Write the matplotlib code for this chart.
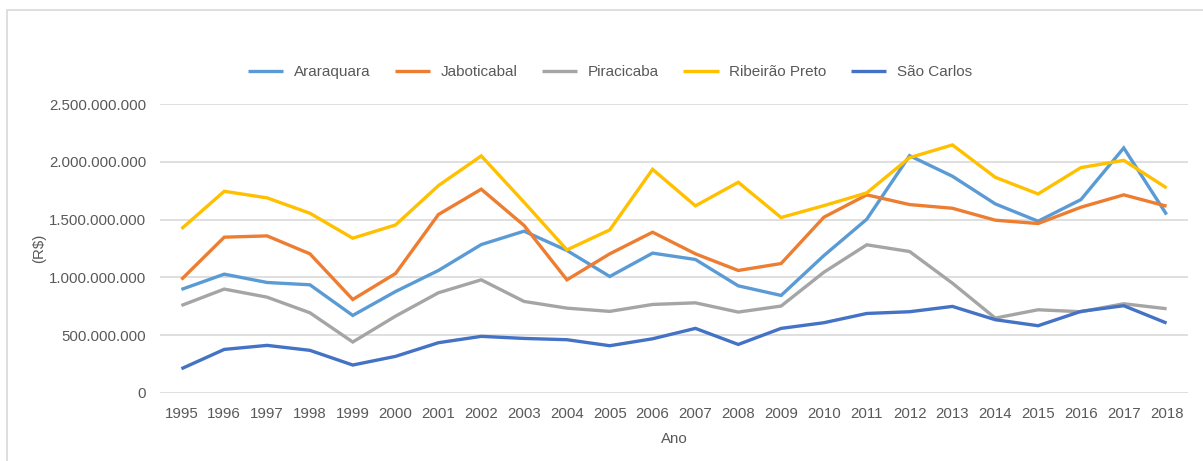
import matplotlib
matplotlib.use("Agg")
import matplotlib.pyplot as plt
from matplotlib.patches import Rectangle
from matplotlib.ticker import FuncFormatter, MultipleLocator

# Annual values (R$) per municipality
anos = list(range(1995, 2019))

araraquara = [896e6, 1028e6, 956e6, 936e6, 671e6, 878e6, 1060e6, 1284e6, 1400e6, 1233e6,
              1008e6, 1210e6, 1155e6, 927e6, 844e6, 1189e6, 1503e6, 2053e6, 1875e6, 1636e6,
              1486e6, 1673e6, 2120e6, 1544e6]
jaboticabal = [982e6, 1348e6, 1359e6, 1204e6, 809e6, 1034e6, 1544e6, 1763e6, 1449e6, 979e6,
               1204e6, 1391e6, 1204e6, 1060e6, 1120e6, 1521e6, 1714e6, 1630e6, 1598e6, 1495e6,
               1466e6, 1607e6, 1714e6, 1616e6]
piracicaba = [757e6, 899e6, 829e6, 694e6, 441e6, 665e6, 867e6, 979e6, 792e6, 734e6,
              706e6, 766e6, 780e6, 700e6, 752e6, 1045e6, 1282e6, 1224e6, 950e6, 648e6,
              720e6, 703e6, 772e6, 729e6]
ribeirao_preto = [1420e6, 1745e6, 1688e6, 1555e6, 1339e6, 1454e6, 1794e6, 2051e6, 1650e6, 1238e6,
                  1411e6, 1935e6, 1619e6, 1823e6, 1518e6, 1621e6, 1731e6, 2036e6, 2146e6, 1866e6,
                  1722e6, 1950e6, 2013e6, 1774e6]
sao_carlos = [210e6, 377e6, 412e6, 369e6, 242e6, 317e6, 435e6, 490e6, 472e6, 461e6,
              409e6, 469e6, 559e6, 420e6, 559e6, 608e6, 688e6, 703e6, 749e6, 634e6,
              582e6, 706e6, 755e6, 605e6]

series = [
    ("Araraquara", araraquara, "#5B9BD5"),
    ("Jaboticabal", jaboticabal, "#ED7D31"),
    ("Piracicaba", piracicaba, "#A5A5A5"),
    ("Ribeirão Preto", ribeirao_preto, "#FFC000"),
    ("São Carlos", sao_carlos, "#4472C4"),
]

plt.rcParams["font.family"] = ["Liberation Sans", "DejaVu Sans"]
text_color = "#595959"

W, H = 1203, 461
fig = plt.figure(figsize=(W / 100, H / 100), dpi=100)
fig.patch.set_facecolor("white")

# Chart-area border (runs past the right and bottom edges)
fig.add_artist(Rectangle((7 / W, -0.05), 1.2, 1 - 10 / H + 0.05,
                         transform=fig.transFigure, fill=False,
                         edgecolor="#D9D9D9", linewidth=1.2))

ax = fig.add_axes([160 / W, 1 - 393 / H, (1188 - 160) / W, (393 - 104) / H])

x = list(range(len(anos)))
for nome, valores, cor in series:
    ax.plot(x, valores, color=cor, linewidth=2.4, label=nome,
            solid_joinstyle="miter", solid_capstyle="butt")

ax.set_xlim(-0.5, len(anos) - 0.5)
ax.set_ylim(0, 2.5e9)
ax.yaxis.set_major_locator(MultipleLocator(5e8))
ax.yaxis.set_major_formatter(FuncFormatter(lambda v, p: f"{int(round(v)):,}".replace(",", ".")))
ax.set_xticks(x)
ax.set_xticklabels([str(a) for a in anos])

ax.grid(axis="y", color="#D9D9D9", linewidth=1.2)
ax.set_axisbelow(True)
for s in ax.spines.values():
    s.set_visible(False)
ax.tick_params(axis="both", length=0, labelsize=10.8, colors=text_color)
ax.tick_params(axis="y", pad=10)
ax.tick_params(axis="x", pad=10)

ax.set_ylabel("(R$)", fontsize=10.8, color=text_color, labelpad=2)
ax.set_xlabel("Ano", fontsize=10.8, color=text_color, labelpad=8)

fig.legend(loc="center", bbox_to_anchor=(610 / W, 1 - 72 / H), ncol=5,
           frameon=False, fontsize=11, handlelength=2.3, handletextpad=0.7,
           columnspacing=1.6, labelcolor=text_color)

fig.savefig("out.png", dpi=100, facecolor="white")
